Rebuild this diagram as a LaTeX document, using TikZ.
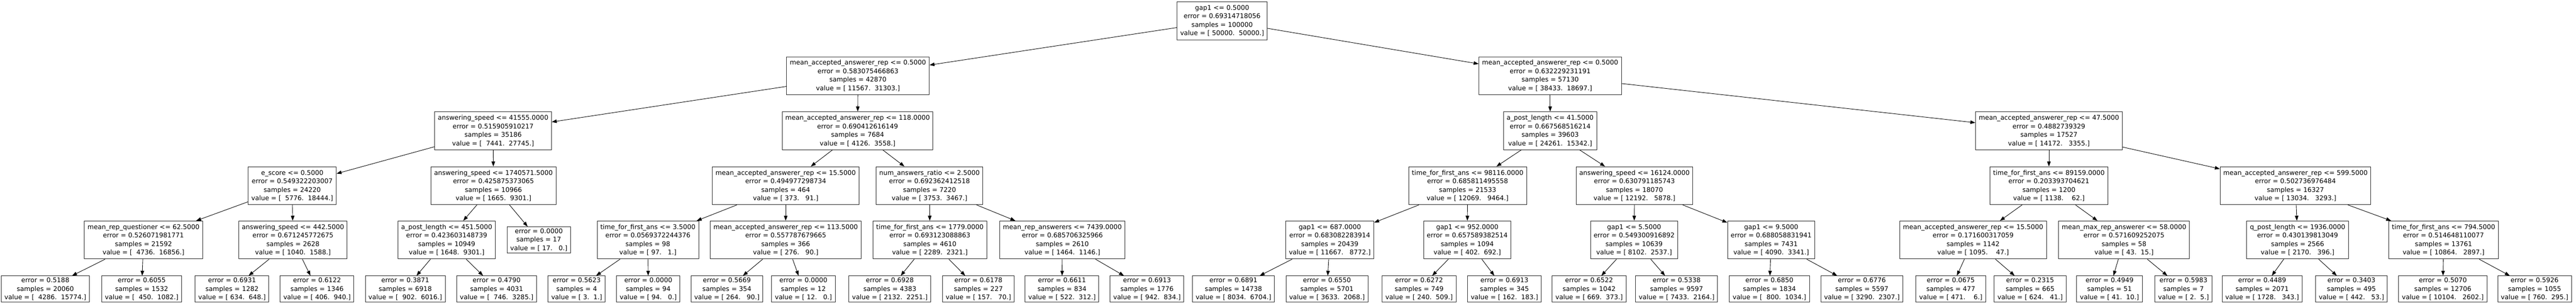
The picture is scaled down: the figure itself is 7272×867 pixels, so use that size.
\documentclass[tikz,border=0pt]{standalone}
\usepackage{fontspec}
\setmainfont{DejaVu Sans}
\usetikzlibrary{arrows.meta}
\newcommand\nd[4]{#1\\error = #2\\samples = #3\\value = [#4]}
\newcommand\lf[3]{error = #1\\samples = #2\\value = [#3]}
\tikzset{
  box/.style={draw=black!85, line width=1.4pt, fill=white, align=center,
    inner xsep=9pt, inner ysep=2pt, minimum height=107pt,
    font=\fontsize{18.3}{24}\selectfont},
  leaf/.style={box, minimum height=74pt},
  edge/.style={draw=black, line width=1.3pt, -{Triangle[length=14pt,width=10pt]}}
}
\begin{document}
\begin{tikzpicture}[x=1pt,y=-1pt]
\fill[white] (0,0) rectangle (7272,867);
\useasboundingbox (0,0) rectangle (7272,867);
% level 0
\node[box] (r) at (3450,58.5) {\nd{gap1 <= 0.5000}{0.69314718056}{100000}{~50000.~~50000.}};
% level 1
\node[box] (a) at (2422,213.5) {\nd{mean\_accepted\_answerer\_rep <= 0.5000}{0.583075466863}{42870}{~11567.~~31303.}};
\node[box] (b) at (4376,213.5) {\nd{mean\_accepted\_answerer\_rep <= 0.5000}{0.632229231191}{57130}{~38433.~~18697.}};
% level 2
\node[box] (aa) at (1392,368.5) {\nd{answering\_speed <= 41555.0000}{0.515905910217}{35186}{~~7441.~~27745.}};
\node[box] (ab) at (2421,368.5) {\nd{mean\_accepted\_answerer\_rep <= 118.0000}{0.690412616149}{7684}{~4126.~~3558.}};
\node[box] (ba) at (4376,368.5) {\nd{a\_post\_length <= 41.5000}{0.667568516214}{39603}{~24261.~~15342.}};
\node[box] (bb) at (5784,368.5) {\nd{mean\_accepted\_answerer\_rep <= 47.5000}{0.4882739329}{17527}{~14172.~~~3355.}};
% level 3
\node[box] (A1) at (825,523.5) {\nd{e\_score <= 0.5000}{0.549322203007}{24220}{~~5776.~~18444.}};
\node[box] (A2) at (1393,523.5) {\nd{answering\_speed <= 1740571.5000}{0.425875373065}{10966}{~1665.~~9301.}};
\node[box] (B1) at (2218,523.5) {\nd{mean\_accepted\_answerer\_rep <= 15.5000}{0.494977298734}{464}{~373.~~~91.}};
\node[box] (B2) at (2624,523.5) {\nd{num\_answers\_ratio <= 2.5000}{0.692362412518}{7220}{~3753.~~3467.}};
\node[box] (C1) at (4143,523.5) {\nd{time\_for\_first\_ans <= 98116.0000}{0.685811495558}{21533}{~12069.~~~9464.}};
\node[box] (C2) at (4614,523.5) {\nd{answering\_speed <= 16124.0000}{0.630791185743}{18070}{~12192.~~~5878.}};
\node[box] (D1) at (5784,523.5) {\nd{time\_for\_first\_ans <= 89159.0000}{0.203393704621}{1200}{~1138.~~~~62.}};
\node[box] (D2) at (6480,523.5) {\nd{mean\_accepted\_answerer\_rep <= 599.5000}{0.502736976484}{16327}{~13034.~~~3293.}};
% level 4
\node[box] (A1a) at (405,676.5) {\nd{mean\_rep\_questioner <= 62.5000}{0.526071981771}{21592}{~~4736.~~16856.}};
\node[box] (A1b) at (827,676.5) {\nd{answering\_speed <= 442.5000}{0.671245772675}{2628}{~1040.~~1588.}};
\node[box] (A2a) at (1261,676.5) {\nd{a\_post\_length <= 451.5000}{0.423603148739}{10949}{~1648.~~9301.}};
\node[leaf] (A2b) at (1521,676.5) {\lf{0.0000}{17}{~17.~~~0.}};
\node[box] (B1a) at (1829,676.5) {\nd{time\_for\_first\_ans <= 3.5000}{0.0569372244376}{98}{~97.~~~1.}};
\node[box] (B1b) at (2218,676.5) {\nd{mean\_accepted\_answerer\_rep <= 113.5000}{0.557787679665}{366}{~276.~~~90.}};
\node[box] (B2a) at (2625,676.5) {\nd{time\_for\_first\_ans <= 1779.0000}{0.693123088863}{4610}{~2289.~~2321.}};
\node[box] (B2b) at (2999,676.5) {\nd{mean\_rep\_answerers <= 7439.0000}{0.685706325966}{2610}{~1464.~~1146.}};
\node[box] (C1a) at (3754,676.5) {\nd{gap1 <= 687.0000}{0.683082283914}{20439}{~11667.~~~8772.}};
\node[box] (C1b) at (4142,676.5) {\nd{gap1 <= 952.0000}{0.657589382514}{1094}{~402.~~692.}};
\node[box] (C2a) at (4613,676.5) {\nd{gap1 <= 5.5000}{0.549300916892}{10639}{~8102.~~2537.}};
\node[box] (C2b) at (5000,676.5) {\nd{gap1 <= 9.5000}{0.688058831941}{7431}{~4090.~~3341.}};
\node[box] (D1a) at (5570,676.5) {\nd{mean\_accepted\_answerer\_rep <= 15.5000}{0.171600317059}{1142}{~1095.~~~~47.}};
\node[box] (D1b) at (5996,676.5) {\nd{mean\_max\_rep\_answerer <= 58.0000}{0.571609252075}{58}{~43.~~15.}};
\node[box] (D2a) at (6486,676.5) {\nd{q\_post\_length <= 1936.0000}{0.430139813049}{2566}{~2170.~~~396.}};
\node[box] (D2b) at (6898,676.5) {\nd{time\_for\_first\_ans <= 794.5000}{0.514648110077}{13761}{~10864.~~~2897.}};
% level 5 leaves
\node[leaf] (l1) at (128,815) {\lf{0.5188}{20060}{~~4286.~~15774.}};
\node[leaf] (l2) at (400,815) {\lf{0.6055}{1532}{~~450.~~1082.}};
\node[leaf] (l3) at (655,815) {\lf{0.6931}{1282}{~634.~~648.}};
\node[leaf] (l4) at (895,815) {\lf{0.6122}{1346}{~406.~~940.}};
\node[leaf] (l5) at (1144,815) {\lf{0.3871}{6918}{~~902.~~6016.}};
\node[leaf] (l6) at (1402,815) {\lf{0.4790}{4031}{~~746.~~3285.}};
\node[leaf] (l7) at (1628,815) {\lf{0.5623}{4}{~3.~~1.}};
\node[leaf] (l8) at (1830,815) {\lf{0.0000}{94}{~94.~~~0.}};
\node[leaf] (l9) at (2052,815) {\lf{0.5669}{354}{~264.~~~90.}};
\node[leaf] (l10) at (2268,815) {\lf{0.0000}{12}{~12.~~~0.}};
\node[leaf] (l11) at (2512,815) {\lf{0.6928}{4383}{~2132.~~2251.}};
\node[leaf] (l12) at (2762,815) {\lf{0.6178}{227}{~157.~~~70.}};
\node[leaf] (l13) at (2998,815) {\lf{0.6611}{834}{~522.~~312.}};
\node[leaf] (l14) at (3238,815) {\lf{0.6913}{1776}{~942.~~834.}};
\node[leaf] (l15) at (3482,815) {\lf{0.6891}{14738}{~8034.~~6704.}};
\node[leaf] (l16) at (3746,815) {\lf{0.6550}{5701}{~3633.~~2068.}};
\node[leaf] (l17) at (4006,815) {\lf{0.6272}{749}{~240.~~509.}};
\node[leaf] (l18) at (4247,815) {\lf{0.6913}{345}{~162.~~183.}};
\node[leaf] (l19) at (4486,815) {\lf{0.6522}{1042}{~669.~~373.}};
\node[leaf] (l20) at (4733,815) {\lf{0.5338}{9597}{~7433.~~2164.}};
\node[leaf] (l21) at (4995,815) {\lf{0.6850}{1834}{~~800.~~1034.}};
\node[leaf] (l22) at (5256,815) {\lf{0.6776}{5597}{~3290.~~2307.}};
\node[leaf] (l23) at (5507,815) {\lf{0.0675}{477}{~471.~~~~6.}};
\node[leaf] (l24) at (5731,815) {\lf{0.2315}{665}{~624.~~~41.}};
\node[leaf] (l25) at (5955,815) {\lf{0.4949}{51}{~41.~~10.}};
\node[leaf] (l26) at (6164,815) {\lf{0.5983}{7}{~2.~~5.}};
\node[leaf] (l27) at (6386,815) {\lf{0.4489}{2071}{~1728.~~~343.}};
\node[leaf] (l28) at (6638,815) {\lf{0.3403}{495}{~442.~~~53.}};
\node[leaf] (l29) at (6896,815) {\lf{0.5070}{12706}{~10104.~~~2602.}};
\node[leaf] (l30) at (7155,815) {\lf{0.5926}{1055}{~760.~~295.}};
% edges
\foreach \p/\c in {r/a, r/b, a/aa, a/ab, b/ba, b/bb,
  aa/A1, aa/A2, ab/B1, ab/B2, ba/C1, ba/C2, bb/D1, bb/D2,
  A1/A1a, A1/A1b, A2/A2a, A2/A2b, B1/B1a, B1/B1b, B2/B2a, B2/B2b,
  C1/C1a, C1/C1b, C2/C2a, C2/C2b, D1/D1a, D1/D1b, D2/D2a, D2/D2b,
  A1a/l1, A1a/l2, A1b/l3, A1b/l4, A2a/l5, A2a/l6, B1a/l7, B1a/l8,
  B1b/l9, B1b/l10, B2a/l11, B2a/l12, B2b/l13, B2b/l14, C1a/l15, C1a/l16,
  C1b/l17, C1b/l18, C2a/l19, C2a/l20, C2b/l21, C2b/l22, D1a/l23, D1a/l24,
  D1b/l25, D1b/l26, D2a/l27, D2a/l28, D2b/l29, D2b/l30}
  \draw[edge] (\p) -- (\c);
\end{tikzpicture}
\end{document}
